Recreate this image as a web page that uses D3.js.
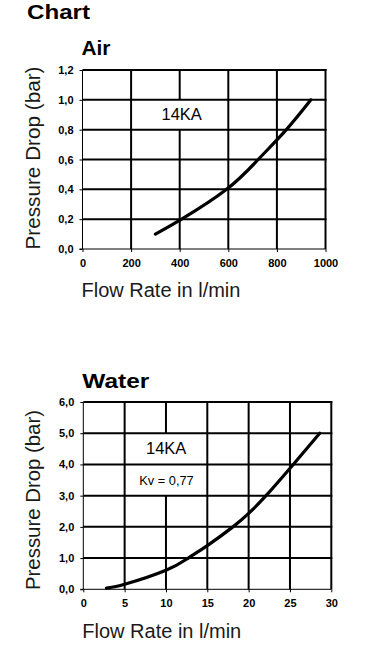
<!DOCTYPE html>
<html>
<head>
<meta charset="utf-8">
<script src="https://cdn.jsdelivr.net/npm/d3@7"></script>
<style>
  html, body { margin: 0; padding: 0; background: #fff; }
  svg { display: block; font-family: "Liberation Sans", Arial, Helvetica, sans-serif; }
</style>
</head>
<body>
<svg id="chart" width="369" height="664"></svg>
<script>
// ---- data ----
const pageTitle = "Chart";
const airTitle = "Air";
const waterTitle = "Water";
const modelLabel = "14KA";
const kvLabel = "Kv = 0,77";
const yTitleAir = "Pressure Drop (bar)";
const yTitleWater = "Pressure Drop  (bar)";
const xTitle = "Flow Rate in l/min";

const airXTicks = [0, 200, 400, 600, 800, 1000];
const airYTicks = [0.0, 0.2, 0.4, 0.6, 0.8, 1.0, 1.2];
const airFlow = [300, 408, 593, 723, 839, 940];
const airDrop = [0.10, 0.20, 0.40, 0.60, 0.80, 1.00];

const waterXTicks = [0, 5, 10, 15, 20, 25, 30];
const waterYTicks = [0, 1, 2, 3, 4, 5, 6];
const waterFlow = [2.8, 5, 10, 12.7, 15, 18.1, 20, 22.1, 25.4, 28.6];
const waterDrop = [0.04, 0.16, 0.61, 1.0, 1.4, 2.0, 2.43, 3.0, 4.0, 5.0];

// ---- drawing ----
const svg = d3.select("#chart");
const comma = d => d3.format(".1f")(d).replace(".", ",");

svg.append("text").attr("x", 27).attr("y", 19)
  .attr("font-size", 21).attr("font-weight", "bold")
  .attr("textLength", 63).attr("lengthAdjust", "spacingAndGlyphs")
  .text(pageTitle);

function panel(cfg) {
  const g = svg.append("g");
  const x = d3.scaleLinear().domain(cfg.xDomain).range([cfg.left, cfg.right]);
  const y = d3.scaleLinear().domain(cfg.yDomain).range([cfg.bottom, cfg.top]);

  // title
  g.append("text").attr("x", cfg.left - 1).attr("y", cfg.titleY)
    .attr("font-size", 21).attr("font-weight", "bold")
    .attr("textLength", cfg.titleLen).attr("lengthAdjust", "spacingAndGlyphs")
    .text(cfg.title);

  // vertical grid (thick)
  g.append("g").selectAll("line").data(cfg.xTicks.slice(1)).join("line")
    .attr("y1", cfg.top - 1).attr("y2", cfg.bottom)
    .attr("x1", d => x(d)).attr("x2", d => x(d))
    .attr("stroke", "#000").attr("stroke-width", 2);

  // white label boxes interrupt the vertical grid
  cfg.boxes.forEach(b => {
    g.append("rect")
      .attr("x", x(b.x0) + 1.5).attr("width", x(b.x1) - x(b.x0) - 3)
      .attr("y", y(b.y1)).attr("height", y(b.y0) - y(b.y1))
      .attr("fill", "#fff");
  });

  // horizontal grid (thick)
  g.append("g").selectAll("line").data(cfg.yTicks.slice(1)).join("line")
    .attr("x1", cfg.left).attr("x2", cfg.right + 1)
    .attr("y1", d => y(d)).attr("y2", d => y(d))
    .attr("stroke", "#000").attr("stroke-width", 2);

  // axes (thin)
  const ya = g.append("g").attr("transform", `translate(${cfg.left},0)`)
    .call(d3.axisLeft(y).tickValues(cfg.yTicks).tickSize(3).tickPadding(6).tickFormat(comma));
  const xa = g.append("g").attr("transform", `translate(0,${cfg.bottom})`)
    .call(d3.axisBottom(x).tickValues(cfg.xTicks).tickSize(3).tickPadding(7).tickFormat(d3.format("d")));
  [ya, xa].forEach(a => {
    a.select(".domain").attr("stroke", "#000").attr("stroke-width", 1);
    a.selectAll(".tick line").attr("stroke", "#000").attr("stroke-width", 1);
    a.selectAll(".tick text").attr("font-size", 11).attr("fill", "#000")
      .attr("font-family", "'Liberation Sans', Arial, sans-serif").attr("font-weight", "bold");
  });
  ya.select(".domain").attr("d", `M-3,${cfg.bottom}H0V${cfg.top}`);
  xa.select(".domain").attr("d", `M${cfg.left},0H${cfg.right}`);

  // curve
  const line = d3.line().x(d => x(d[0])).y(d => y(d[1])).curve(d3.curveNatural);
  g.append("path").datum(d3.zip(cfg.flow, cfg.drop))
    .attr("d", line).attr("fill", "none").attr("stroke", "#000")
    .attr("stroke-width", 3.2).attr("stroke-linecap", "round");

  // axis titles
  g.append("text").attr("x", cfg.left - 1).attr("y", cfg.xTitleY)
    .attr("font-size", 20).attr("fill", "#1a1a1a").text(xTitle);
  g.append("text")
    .attr("transform", `translate(40,${cfg.yTitleCenter}) rotate(-90)`)
    .attr("text-anchor", "middle").attr("font-size", 20).attr("fill", "#1a1a1a")
    .attr("textLength", cfg.yTitleLen).attr("lengthAdjust", "spacingAndGlyphs")
    .text(cfg.yTitle);
  return { g, x, y };
}

const air = panel({
  title: airTitle, titleY: 55, titleLen: 29,
  left: 82.5, right: 325.5, top: 70, bottom: 249,
  xDomain: [0, 1000], yDomain: [0, 1.2],
  xTicks: airXTicks, yTicks: airYTicks,
  boxes: [{ x0: 200, x1: 600, y0: 0.8, y1: 1.0 }],
  flow: airFlow, drop: airDrop,
  xTitleY: 297, yTitle: yTitleAir, yTitleCenter: 158, yTitleLen: 183
});
air.g.append("text").attr("x", 161.5).attr("y", 120).attr("font-size", 16.5).text(modelLabel);

const water = panel({
  title: waterTitle, titleY: 388, titleLen: 67,
  left: 83.3, right: 331.3, top: 402, bottom: 589.3,
  xDomain: [0, 30], yDomain: [0, 6],
  xTicks: waterXTicks, yTicks: waterYTicks,
  boxes: [{ x0: 5, x1: 15, y0: 3, y1: 5 }],
  flow: waterFlow, drop: waterDrop,
  xTitleY: 638, yTitle: yTitleWater, yTitleCenter: 500, yTitleLen: 180
});
water.g.append("text").attr("x", 146).attr("y", 454).attr("font-size", 16.5).text(modelLabel);
water.g.append("text").attr("x", 139.3).attr("y", 485).attr("font-size", 12.8).text(kvLabel);
</script>
</body>
</html>
